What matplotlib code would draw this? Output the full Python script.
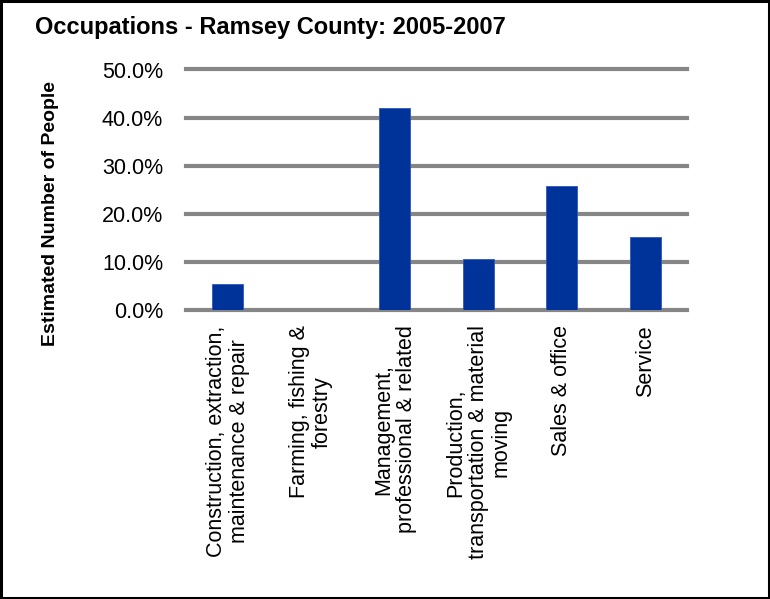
import matplotlib
matplotlib.use("Agg")
import matplotlib.pyplot as plt
from matplotlib.ticker import FuncFormatter
from matplotlib.patches import Rectangle

plt.rcParams['font.family'] = ['Liberation Sans', 'DejaVu Sans']

categories = [
    "Construction, extraction,\nmaintenance & repair",
    "Farming, fishing &\nforestry",
    "Management,\nprofessional & related",
    "Production,\ntransportation & material\nmoving",
    "Sales & office",
    "Service",
]
values = [5.5, 0.0, 42.0, 10.6, 25.7, 15.2]
yticks = [0, 10, 20, 30, 40, 50]

W, H = 770, 599
fig = plt.figure(figsize=(W / 100, H / 100), dpi=100)
ax = fig.add_axes([186 / W, 1 - 310 / H, (687 - 186) / W, (310 - 69.5) / H])

x = list(range(len(categories)))
ax.bar(x, values, width=0.375, color="#003399", edgecolor="#3355bb", linewidth=0.6, zorder=3)
ax.set_xlim(-0.5, len(categories) - 0.5)
ax.set_ylim(0, 50)
ax.set_yticks(yticks)
ax.yaxis.set_major_formatter(FuncFormatter(lambda v, p: f"{v:.1f}%"))
ax.grid(axis="y", color="#868686", linewidth=3, zorder=0)
ax.set_axisbelow(True)
for gl in ax.get_ygridlines():
    gl.set_clip_on(False)
for s in ax.spines.values():
    s.set_visible(False)
ax.tick_params(axis="y", length=0, pad=16.5, labelsize=15.5)
ax.tick_params(axis="x", length=0)
ax.set_xticks(x)
ax.set_xticklabels([])
for i, lab in enumerate(categories):
    ax.annotate(lab, xy=(i, 0), xycoords="data", xytext=(0, -11), textcoords="offset points",
                rotation=90, ha="center", va="top", multialignment="center",
                fontsize=15.5, linespacing=1.1, annotation_clip=False)

fig.text(35 / W, 1 - 34 / H, "Occupations - Ramsey County: 2005-2007", fontsize=17,
         fontweight="bold", ha="left", va="baseline")
fig.text(51 / W, 1 - 213 / H, "Estimated Number of People", fontsize=14,
         fontweight="bold", rotation=90, ha="center", va="center")

fig.patches.append(Rectangle((0.0015, 0.002), 0.997, 0.996, transform=fig.transFigure,
                             fill=False, edgecolor="black", linewidth=2.2))
fig.savefig("out.png", dpi=100)
